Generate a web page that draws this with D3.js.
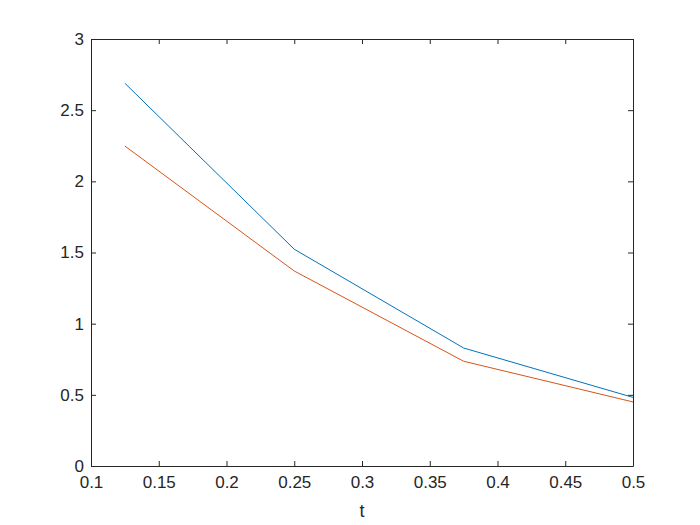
<!DOCTYPE html>
<html><head><meta charset="utf-8">
<script src="https://cdn.jsdelivr.net/npm/d3@7"></script>
<style>body{margin:0;background:#fff}text{font-family:"Liberation Sans",Arial,sans-serif}</style>
</head><body>
<script>
const tValues = [0.125, 0.25, 0.375, 0.5];
const seriesBlue = [2.689, 1.523, 0.829, 0.482];
const seriesRed = [2.248, 1.370, 0.736, 0.450];
const xTicks = [0.1,0.15,0.2,0.25,0.3,0.35,0.4,0.45,0.5];
const yTicks = [0,0.5,1,1.5,2,2.5,3];
const xLabel = "t";

const W=700,H=525, L=91, R=633, T=39, B=466;
const svg=d3.select("body").append("svg").attr("width",W).attr("height",H);
svg.append("rect").attr("width",W).attr("height",H).attr("fill","#fff");
const x=d3.scaleLinear().domain([0.1,0.5]).range([L,R]);
const y=d3.scaleLinear().domain([0,3]).range([B,T]);
const axCol="#262626";
const fmt=d=>String(d);
function styleAxis(g){g.select(".domain").attr("stroke",axCol);g.selectAll(".tick line").attr("stroke",axCol);g.selectAll("text").attr("fill",axCol).attr("font-size","17px");}
svg.append("g").attr("transform",`translate(0,${B})`).call(d3.axisBottom(x).tickValues(xTicks).tickFormat(fmt).tickSizeInner(-5).tickSizeOuter(0).tickPadding(10)).call(styleAxis);
svg.append("g").attr("transform",`translate(0,${T})`).call(d3.axisTop(x).tickValues(xTicks).tickFormat("").tickSizeInner(-5).tickSizeOuter(0)).call(styleAxis);
svg.append("g").attr("transform",`translate(${L},0)`).call(d3.axisLeft(y).tickValues(yTicks).tickFormat(fmt).tickSizeInner(-5).tickSizeOuter(0).tickPadding(7)).call(styleAxis);
svg.append("g").attr("transform",`translate(${R},0)`).call(d3.axisRight(y).tickValues(yTicks).tickFormat("").tickSizeInner(-5).tickSizeOuter(0)).call(styleAxis);
const line=d3.line().x((d,i)=>x(tValues[i])).y(d=>y(d));
svg.append("path").datum(seriesBlue).attr("d",line).attr("fill","none").attr("stroke","#0072BD").attr("stroke-width",1);
svg.append("path").datum(seriesRed).attr("d",line).attr("fill","none").attr("stroke","#D95319").attr("stroke-width",1);
svg.append("text").attr("x",(L+R)/2).attr("y",517).attr("text-anchor","middle").attr("font-size","18px").attr("fill",axCol).text(xLabel);
</script>
</body></html>
